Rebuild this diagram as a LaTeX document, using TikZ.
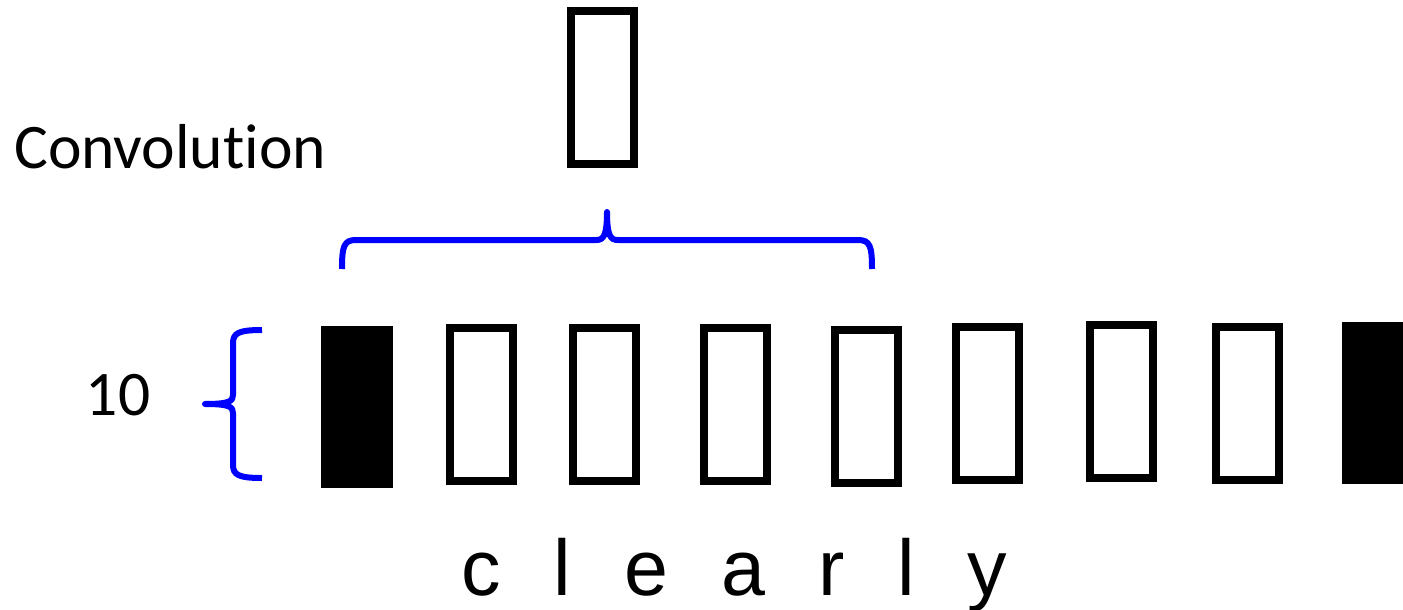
\documentclass[tikz,border=0pt]{standalone}
\usepackage{fontspec}
\newfontfamily\labelfont[Ligatures=NoCommon]{Carlito}
\newfontfamily\wordfont{Liberation Sans}
\definecolor{braceblue}{RGB}{0,0,255}
\begin{document}
\begin{tikzpicture}[x=1pt,y=-1pt,
  cell/.style={draw=black,line width=8pt,fill=white,minimum width=63pt,minimum height=153pt,inner sep=0pt},
  padcell/.style={draw=black,fill=black,line width=0.5pt,minimum width=70.5pt,minimum height=160.5pt,inner sep=0pt},
  bracepath/.style={draw=braceblue,line width=6pt,line cap=butt,line join=round},
  lbl/.style={inner sep=0pt,font=\labelfont\fontsize{63.5}{70}\selectfont}]
\useasboundingbox (0,0) rectangle (1403,610);

% feature map cell produced by the convolution
\node[cell] (out) at (602.5,87.5) {};

% row of word-vector columns, padded at both ends
\node[padcell] (p1) at (356.5,406.5) {};
\node[cell] (c1) at (481.5,404.5) {};
\node[cell] (c2) at (604.5,404) {};
\node[cell] (c3) at (735.5,404) {};
\node[cell] (c4) at (866.5,406.5) {};
\node[cell] (c5) at (987.5,403.5) {};
\node[cell] (c6) at (1121.5,401.5) {};
\node[cell] (c7) at (1247.5,403.5) {};
\node[padcell] (p2) at (1377.5,402.5) {};

% labels
\node[lbl,anchor=base west] (conv) at (14,168) {Convolution};
\node[lbl,anchor=base] (dim) at (118,415) {10};
\node[inner sep=0pt,anchor=base west] (word) at (461,595)
  {\wordfont\fontsize{79}{90}\selectfont\spaceskip=53pt\relax c l e a r l y};

% vertical brace spanning the column height
\coordinate (vtop) at (262,330);
\coordinate (vtip) at (205,404);
\coordinate (vbot) at (262,478);
\path[bracepath] (vtop) .. controls (239,330) and (233,333) .. (233,343)
  -- (233,395) .. controls (233,401) and (230,404) .. (vtip)
  .. controls (230,404) and (233,407) .. (233,413)
  -- (233,465) .. controls (233,475) and (239,478) .. (vbot);

% horizontal brace over the convolution window
\coordinate (hl) at (342,269);
\coordinate (htip) at (607,212);
\coordinate (hr) at (872,269);
\path[bracepath] (hl) .. controls (342,246) and (344,240) .. (356,240)
  -- (596,240) .. controls (603,240) and (607,237) .. (htip)
  .. controls (607,237) and (611,240) .. (618,240)
  -- (858,240) .. controls (870,240) and (872,246) .. (hr);
\end{tikzpicture}
\end{document}
